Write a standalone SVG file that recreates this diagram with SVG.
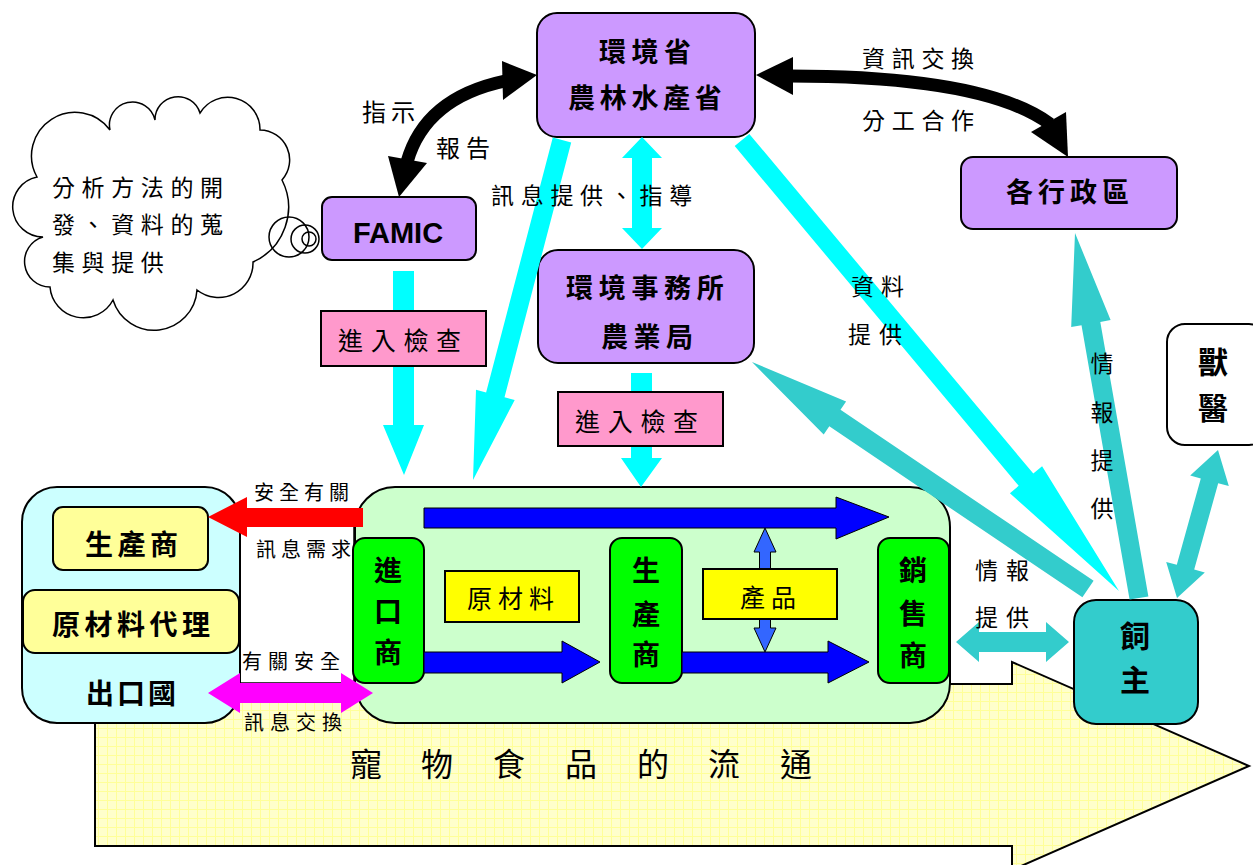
<svg xmlns="http://www.w3.org/2000/svg" width="1253" height="865" viewBox="0 0 1253 865">
<defs>
<pattern id="grid" width="9" height="9" patternUnits="userSpaceOnUse"><rect width="9" height="9" fill="#FFFFCC"/><path d="M8.5 0V9M0 8.5H9" stroke="#FFFF99" stroke-width="1" fill="none"/></pattern>
</defs>
<style>
.box{stroke:#000;stroke-width:2}
.purple{fill:#CC99FF}
.pink{fill:#FF99CC;stroke:#000;stroke-width:2}
.ylab{fill:#FFFF00;stroke:#000;stroke-width:2}
.ybox{fill:#FFFF99;stroke:#000;stroke-width:2}
.gin{fill:#00FF00;stroke:#000;stroke-width:2}
.cyan{fill:#00FFFF}
.teal{fill:#33CCCC}
.blue{fill:#0000FF;stroke:#000;stroke-width:1}
.curve{fill:none;stroke:#000;stroke-width:13}
.lab{font-family:"Noto Sans CJK TC","Noto Sans CJK SC",sans-serif;fill:#000}
.b{font-family:"Noto Sans CJK TC","Noto Sans CJK SC",sans-serif;font-weight:bold;fill:#000}
</style>
<rect width="1253" height="865" fill="#fff"/>

<g id="flow-arrow">
<polygon points="95,684 1012,684 1012,662 1249,766 1012,870 1012,846 95,846" fill="url(#grid)" stroke="#000" stroke-width="2"/>
<text class="lab" font-size="32" x="350 421 493 565 637 708 780" y="776">寵物食品的流通</text>
</g>

<rect id="label-box" x="239" y="510" width="115" height="173" fill="#fff" stroke="#000" stroke-width="1.5"/>

<g id="cloud">
<path d="M37,177 A43.5,43.5 0 0 1 110,130 A23,23 0 0 1 155,120 A23,23 0 0 1 200,113 A32.3,32.3 0 0 1 260,130 A30,30 0 0 1 282,180 A60,60 0 0 1 253,262 A34.5,34.5 0 0 1 197,290 A43,43 0 0 1 113,300 A33.5,33.5 0 0 1 50,287 A25.5,25.5 0 0 1 43,237 A30.3,30.3 0 0 1 37,177 Z" fill="#fff" stroke="#000" stroke-width="1.5"/>
<circle cx="289" cy="237" r="20" fill="none" stroke="#000" stroke-width="1.5"/>
<circle cx="305" cy="239" r="14" fill="none" stroke="#000" stroke-width="1.5"/>
<circle cx="309" cy="239" r="7" fill="none" stroke="#000" stroke-width="1.5"/>
<text class="lab" font-size="23" letter-spacing="6.6" x="52" y="196">分析方法的開</text>
<text class="lab" font-size="23" letter-spacing="6.6" x="52" y="233">發、資料的蒐</text>
<text class="lab" font-size="23" letter-spacing="6.6" x="52" y="271">集與提供</text>
</g>

<g id="node-exporter">
<rect class="box" x="22" y="487" width="218" height="236" rx="35" fill="#CCFFFF"/>
<rect class="ybox" x="53" y="507" width="155" height="63" rx="10"/>
<text class="b" font-size="28" letter-spacing="4.5" x="85" y="555">生產商</text>
<rect class="ybox" x="23" y="590" width="216" height="63" rx="12"/>
<text class="b" font-size="28" letter-spacing="4.5" x="52" y="635">原材料代理</text>
<text class="b" font-size="28" letter-spacing="3" x="86" y="704">出口國</text>
</g>

<g id="node-domestic">
<rect class="box" x="355" y="487" width="595" height="236" rx="40" fill="#CCFFCC"/>
</g>

<g id="node-importer">
<rect class="gin" x="353" y="538" width="71" height="145" rx="12"/>
<text class="b" font-size="28" text-anchor="middle" x="388" y="581">進</text>
<text class="b" font-size="28" text-anchor="middle" x="388" y="622">口</text>
<text class="b" font-size="28" text-anchor="middle" x="388" y="663">商</text>
</g>
<g id="node-producer">
<rect class="gin" x="610" y="538" width="72" height="145" rx="12"/>
<text class="b" font-size="28" text-anchor="middle" x="646" y="581">生</text>
<text class="b" font-size="28" text-anchor="middle" x="646" y="625">產</text>
<text class="b" font-size="28" text-anchor="middle" x="646" y="665">商</text>
</g>
<g id="node-seller">
<rect class="gin" x="878" y="538" width="71" height="145" rx="12"/>
<text class="b" font-size="28" text-anchor="middle" x="913" y="581">銷</text>
<text class="b" font-size="28" text-anchor="middle" x="913" y="624">售</text>
<text class="b" font-size="28" text-anchor="middle" x="913" y="666">商</text>
</g>

<g id="node-ministry">
<rect class="box purple" x="537" y="13" width="218" height="124" rx="20"/>
<text class="b" font-size="27" letter-spacing="5.5" x="599" y="62">環境省</text>
<text class="b" font-size="27" letter-spacing="4.7" x="568" y="108">農林水產省</text>
</g>
<g id="node-famic">
<rect class="box purple" x="322" y="197" width="154" height="63" rx="10"/>
<text font-family="Liberation Sans, Arial, sans-serif" font-weight="bold" font-size="29" text-anchor="middle" x="398" y="243">FAMIC</text>
</g>
<g id="node-office">
<rect class="box purple" x="538" y="250" width="216" height="113" rx="20"/>
<text class="b" font-size="27" letter-spacing="5.7" x="566" y="298">環境事務所</text>
<text class="b" font-size="27" letter-spacing="5.5" x="601" y="347">農業局</text>
</g>
<g id="node-local">
<rect class="box purple" x="961" y="157" width="216" height="72" rx="12"/>
<text class="b" font-size="27" letter-spacing="5" x="1006" y="202">各行政區</text>
</g>
<g id="node-vet">
<rect class="box" x="1167" y="324" width="100" height="121" rx="18" fill="#fff"/>
<text class="b" font-size="30" text-anchor="middle" x="1213" y="373">獸</text>
<text class="b" font-size="30" text-anchor="middle" x="1213" y="419">醫</text>
</g>
<g id="node-owner">
<rect class="box teal" x="1074" y="600" width="124" height="124" rx="22"/>
<text class="b" font-size="30" text-anchor="middle" x="1135" y="647">飼</text>
<text class="b" font-size="30" text-anchor="middle" x="1135" y="691">主</text>
</g>

<g id="connectors">
<!-- black curved arrows -->
<path class="curve" d="M505 81 Q425 98 407 162"/>
<polygon points="537,75 502,61 503,100" fill="#000"/>
<polygon points="399,197 388,156 427,163" fill="#000"/>
<path class="curve" d="M790 76 Q985 76 1050 124"/>
<polygon points="756,75 793,57 793,95" fill="#000"/>
<polygon points="1068,157 1031,132 1066,112" fill="#000"/>
<!-- teal arrows -->
<polygon class="teal" points="1093.6,580.7 840.5,409.7 846.1,401.4 752,362 823.7,434.6 829.3,426.3 1082.4,597.3"/>
<polygon class="teal" points="1148.4,596.4 1100.3,322 1110.6,320.1 1075,233 1071.2,327.1 1081.5,325.2 1129.6,599.6"/>
<polygon class="teal" points="1218,450 1228.8,486.1 1218.2,483.2 1194.2,569.6 1204.8,572.5 1177,598 1166.2,561.9 1176.8,564.8 1200.8,478.4 1190.2,475.5"/>
<polygon class="teal" points="956,642 979,622 979,632 1046,632 1046,622 1069,642 1046,662 1046,652 979,652 979,662"/>
<!-- cyan arrows -->
<polygon class="cyan" points="393,271 414,271 414,425 424,425 404,475 383,425 393,425"/>
<polygon class="cyan" points="631,373 652,373 652,458 662,458 641,487 621,458 631,458"/>
<polygon class="cyan" points="642,137 662,158 652,158 652,228 662,228 642,249 622,228 632,228 632,158 622,158"/>
<polygon class="cyan" points="552.8,137.6 486.1,392.5 476,389.8 473,480 514.7,400 504.5,397.3 571.2,142.4"/>
<polygon class="cyan" points="734.7,146.1 1018.7,485.8 1009.9,493.2 1119,591 1042.1,466.2 1033.3,473.6 749.3,133.9"/>
<!-- red / magenta -->
<polygon points="363,508 247,508 247,497 208,517 247,537 247,527 363,527" fill="#FF0000"/>
<polygon points="208,693 240,673 240,683 341,683 341,673 373,693 341,713 341,703 240,703 240,713" fill="#FF00FF"/>
<!-- blue flow arrows -->
<polygon class="blue" points="424,508 836,508 836,497 889,517 836,539 836,528 424,528"/>
<polygon class="blue" points="424,652 562,652 562,641 600,662 562,683 562,673 424,673"/>
<polygon class="blue" points="682,652 828,652 828,641 869,662 828,683 828,673 682,673"/>
<polygon points="765,528 776,552 770.5,552 770.5,628 776,628 765,652 754,628 759.5,628 759.5,552 754,552" fill="#3366FF" stroke="#000" stroke-width="1"/>
</g>

<g id="connector-labels">
<rect class="pink" x="321" y="311" width="165" height="55"/>
<text class="lab" font-size="25" letter-spacing="7.7" x="338" y="349.5">進入檢查</text>
<rect class="pink" x="558" y="392" width="165" height="54"/>
<text class="lab" font-size="25" letter-spacing="7.7" x="575" y="430.5">進入檢查</text>
<rect class="ylab" x="445" y="571" width="134" height="51"/>
<text class="lab" font-size="25" letter-spacing="6" x="467" y="607.5">原材料</text>
<rect class="ylab" x="703" y="569" width="134" height="50"/>
<text class="lab" font-size="25" letter-spacing="6" x="740" y="606.5">產品</text>
<text class="lab" font-size="24" letter-spacing="5" x="362" y="121">指示</text>
<text class="lab" font-size="24" letter-spacing="6" x="436" y="157">報告</text>
<text class="lab" font-size="23" letter-spacing="6.7" x="491" y="204">訊息提供、指導</text>
<text class="lab" font-size="23" letter-spacing="6.7" x="862" y="67">資訊交換</text>
<text class="lab" font-size="23" letter-spacing="6.7" x="862" y="129">分工合作</text>
<text class="lab" font-size="23" letter-spacing="7" x="851" y="295">資料</text>
<text class="lab" font-size="23" letter-spacing="8" x="848" y="343">提供</text>
<text class="lab" font-size="23" text-anchor="middle" x="1102" y="372">情</text>
<text class="lab" font-size="23" text-anchor="middle" x="1102" y="421">報</text>
<text class="lab" font-size="23" text-anchor="middle" x="1102" y="469">提</text>
<text class="lab" font-size="23" text-anchor="middle" x="1102" y="517">供</text>
<text class="lab" font-size="23" letter-spacing="8" x="975" y="579">情報</text>
<text class="lab" font-size="23" letter-spacing="8" x="975" y="626">提供</text>
<text class="lab" font-size="20" letter-spacing="5" x="254" y="500">安全有關</text>
<text class="lab" font-size="20" letter-spacing="5" x="256" y="557">訊息需求</text>
<text class="lab" font-size="20" letter-spacing="6" x="242" y="669">有關安全</text>
<text class="lab" font-size="20" letter-spacing="6" x="244" y="730">訊息交換</text>
</g>
</svg>
